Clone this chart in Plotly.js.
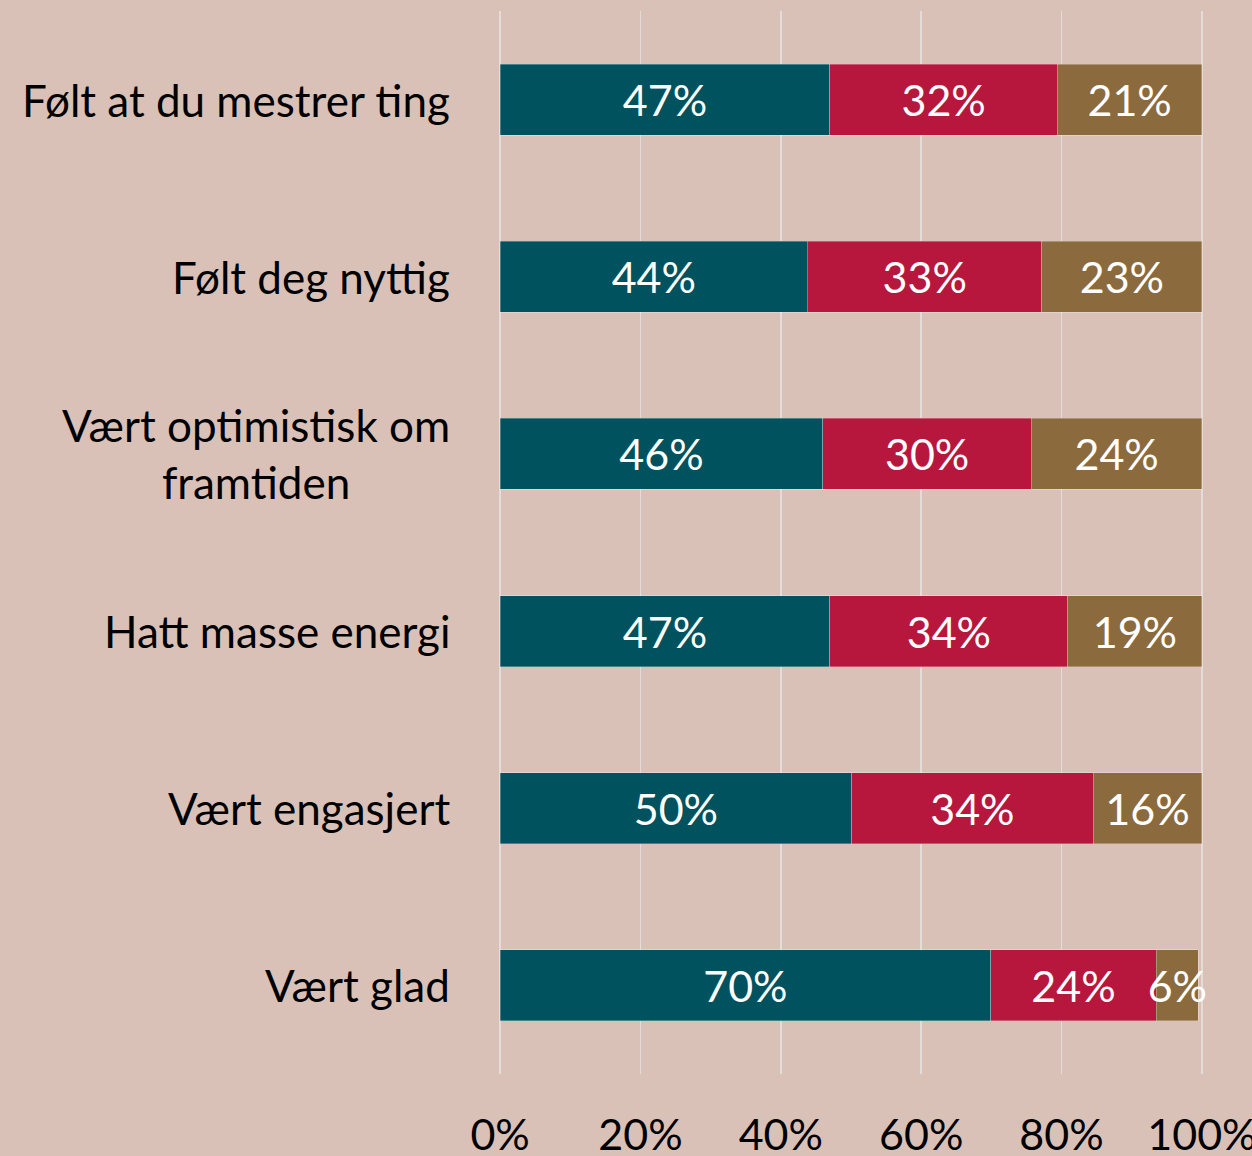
<!DOCTYPE html>
<html>
<head>
<meta charset="utf-8">
<script src="https://cdn.plot.ly/plotly-3.0.1.min.js"></script>
<style>
html,body{margin:0;padding:0;background:#D9C1B8;overflow:hidden;}
#chart{width:1252px;height:1156px;}
</style>
</head>
<body>
<div id="chart"></div>
<script>
var categories = ["Følt at du mestrer ting", "Følt deg nyttig", "Vært optimistisk om<br>framtiden", "Hatt masse energi", "Vært engasjert", "Vært glad"];
var seriesA = [47.0, 43.8, 46.0, 47.0, 50.1, 69.9];
var seriesB = [32.4, 33.4, 29.7, 33.9, 34.4, 23.6];
var seriesC = [20.6, 22.8, 24.3, 19.1, 15.5, 6.0];
var tickVals = [0, 20, 40, 60, 80, 100];
var tickLabels = ["0%", "20%", "40%", "60%", "80%", "100%"];

var FONT = "Lato, 'Open Sans', sans-serif";
var FS = 43;
var colors = ["#00525F", "#B8173D", "#8B6B3E"];
var series = [seriesA, seriesB, seriesC];

var traces = series.map(function (vals, i) {
  return {
    type: "bar",
    orientation: "h",
    x: vals,
    y: categories,
    width: 0.4,
    marker: {color: colors[i], line: {color: "rgba(255,255,255,0.35)", width: 0.8}},
    text: vals.map(function (v) { return Math.round(v) + "%"; }),
    texttemplate: "%{text}",
    textposition: "inside",
    insidetextanchor: "middle",
    constraintext: "none",
    textangle: 0,
    cliponaxis: false,
    insidetextfont: {family: FONT, size: FS, color: "#FFFFFF"},
    hoverinfo: "skip"
  };
});

var annotations = categories.map(function (c) {
  return {
    text: c,
    xref: "paper",
    yref: "y",
    x: 0,
    y: c,
    xanchor: "right",
    yanchor: "middle",
    xshift: -46,
    align: "center",
    showarrow: false,
    font: {family: FONT, size: 44, color: "#000000"}
  };
});

var layout = {
  width: 1252,
  height: 1156,
  barmode: "stack",
  paper_bgcolor: "#D9C1B8",
  plot_bgcolor: "#D9C1B8",
  margin: {l: 498, r: 48, t: 11, b: 82},
  showlegend: false,
  xaxis: {
    range: [-0.3, 100.3],
    tickvals: tickVals,
    ticktext: tickLabels,
    showgrid: true,
    gridcolor: "#E3DCDA",
    gridwidth: 1.5,
    zeroline: false,
    showline: false,
    ticks: "",
    ticklabelstandoff: 32,
    ticklabeloverflow: "allow",
    tickfont: {family: FONT, size: FS, color: "#000000"},
    fixedrange: true
  },
  yaxis: {
    autorange: "reversed",
    showticklabels: false,
    showgrid: false,
    zeroline: false,
    ticks: "",
    fixedrange: true
  },
  uniformtext: {mode: false},
  annotations: annotations
};

Plotly.newPlot("chart", traces, layout, {staticPlot: true, displayModeBar: false});
</script>
</body>
</html>
